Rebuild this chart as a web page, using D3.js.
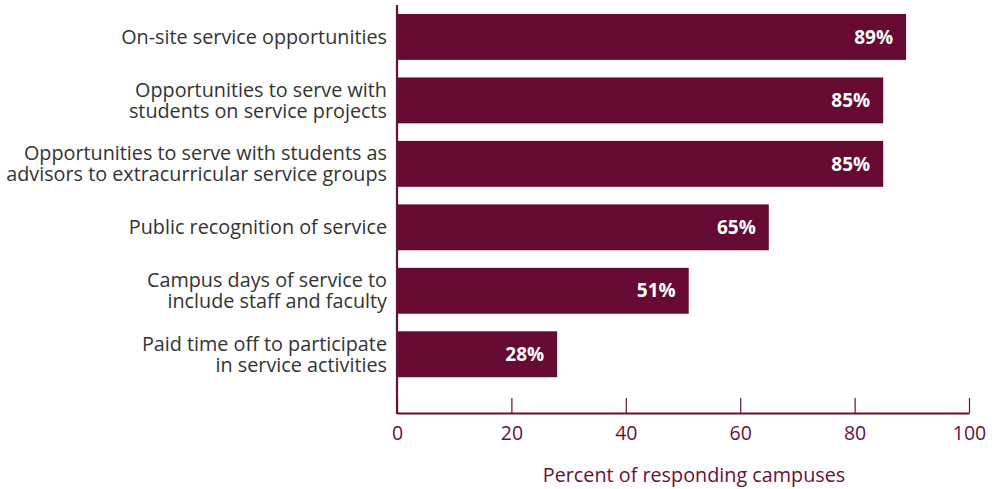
<!DOCTYPE html>
<html>
<head>
<meta charset="utf-8">
<script src="https://cdn.jsdelivr.net/npm/d3@7"></script>
<style>
  html, body { margin: 0; padding: 0; background: #fff; }
  svg { display: block; }
</style>
</head>
<body>
<svg id="chart" width="996" height="489"></svg>
<script>
// Incentives offered to staff and faculty for service
const categories = [
  ["On-site service opportunities"],
  ["Opportunities to serve with", "students on service projects"],
  ["Opportunities to serve with students as", "advisors to extracurricular service groups"],
  ["Public recognition of service"],
  ["Campus days of service to", "include staff and faculty"],
  ["Paid time off to participate", "in service activities"]
];
const values = [89, 85, 85, 65, 51, 28];
const xTicks = [0, 20, 40, 60, 80, 100];
const xTitle = "Percent of responding campuses";

const maroon = "#660933";
const axisColor = "#6a0f36";
const labelColor = "#333333";
const fontFamily = "'Open Sans', 'Noto Sans', sans-serif";

const svg = d3.select("#chart");
const left = 397, right = 969, axisY = 413;

const x = d3.scaleLinear().domain([0, 100]).range([left, right]);
const y = d3.scaleBand()
  .domain(categories.map((d, i) => i))
  .range([5.2, 386])
  .paddingInner(0.277)
  .paddingOuter(0.1385);

// bars
svg.append("g").selectAll("rect")
  .data(values)
  .join("rect")
  .attr("x", x(0))
  .attr("y", (d, i) => y(i))
  .attr("width", d => x(d) - x(0))
  .attr("height", y.bandwidth())
  .attr("fill", maroon);

// value labels inside bar ends
svg.append("g").selectAll("text")
  .data(values)
  .join("text")
  .attr("x", d => x(d) - 13)
  .attr("y", (d, i) => y(i) + y.bandwidth() / 2)
  .attr("dy", "0.35em")
  .attr("text-anchor", "end")
  .attr("fill", "#ffffff")
  .attr("font-family", fontFamily)
  .attr("font-weight", 700)
  .attr("font-size", 19)
  .text(d => d + "%");

// category labels, one or two lines each
const lineH = 21;
const labelX = left - 10;
const catG = svg.append("g")
  .attr("font-family", fontFamily)
  .attr("font-size", 19.8)
  .attr("fill", labelColor)
  .attr("text-anchor", "end");
categories.forEach((lines, i) => {
  const cy = y(i) + y.bandwidth() / 2;
  const t = catG.append("text")
    .attr("x", labelX)
    .attr("y", cy - (lines.length - 1) * lineH / 2);
  lines.forEach((ln, j) => {
    t.append("tspan")
      .attr("x", labelX)
      .attr("dy", j === 0 ? "0.35em" : lineH)
      .text(ln);
  });
});

// x axis with upward ticks
const xAxis = d3.axisBottom(x).tickValues(xTicks).tickSizeInner(-15).tickSizeOuter(0).tickPadding(0);
const axG = svg.append("g")
  .attr("transform", `translate(0,${axisY})`)
  .call(xAxis);
axG.select(".domain").attr("stroke", axisColor).attr("stroke-width", 2.2);
axG.selectAll(".tick line").attr("stroke", axisColor).attr("stroke-width", 1.2);
axG.selectAll(".tick text")
  .attr("y", 27)
  .attr("dy", 0)
  .attr("fill", axisColor)
  .attr("font-family", fontFamily)
  .attr("font-size", 19.5);

// vertical baseline
svg.append("line")
  .attr("x1", x(0)).attr("x2", x(0))
  .attr("y1", 5).attr("y2", axisY + 1)
  .attr("stroke", axisColor)
  .attr("stroke-width", 2.2);

// axis title
svg.append("text")
  .attr("x", 694)
  .attr("y", 482)
  .attr("text-anchor", "middle")
  .attr("fill", axisColor)
  .attr("font-family", fontFamily)
  .attr("font-size", 19.8)
  .text(xTitle);
</script>
</body>
</html>
